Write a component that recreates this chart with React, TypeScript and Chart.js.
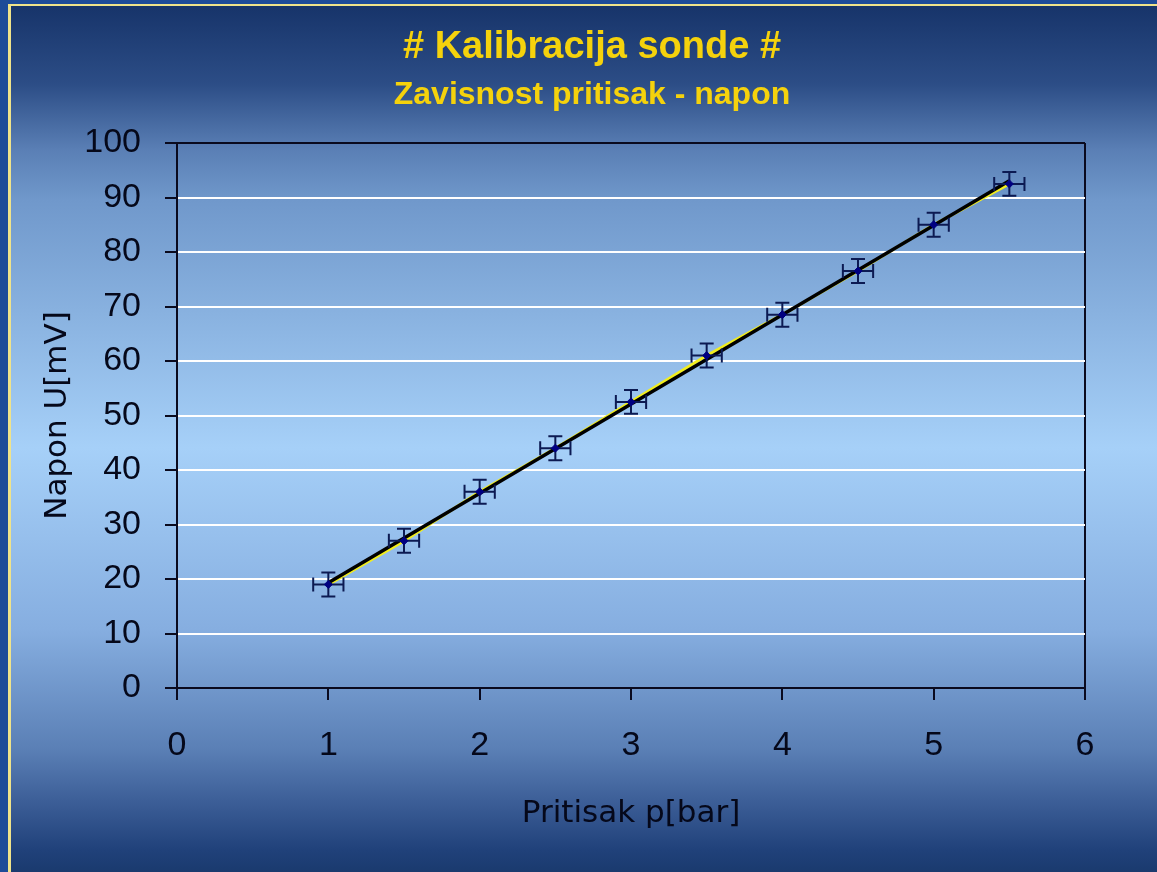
import React, { useEffect, useRef } from "react";
import { Chart, registerables } from "chart.js";

Chart.register(...registerables);

// ---- data ----
const pressure = [1, 1.5, 2, 2.5, 3, 3.5, 4, 4.5, 5, 5.5]; // p [bar]
const voltage = [19, 27, 36, 44, 52.5, 61, 68.5, 76.5, 85, 92.5]; // U [mV]
const pressureError = [0.1, 0.1, 0.1, 0.1, 0.1, 0.1, 0.1, 0.1, 0.1, 0.1];
const voltageError = [2.2, 2.2, 2.2, 2.2, 2.2, 2.2, 2.2, 2.2, 2.2, 2.2];

const titleText = "# Kalibracija sonde #";
const subtitleText = "Zavisnost pritisak - napon";
const xTitle = "Pritisak p[bar]";
const yTitle = "Napon U[mV]";

// linear trendline (least squares) from the data
function trend() {
  const n = pressure.length;
  const mx = pressure.reduce((a, b) => a + b, 0) / n;
  const my = voltage.reduce((a, b) => a + b, 0) / n;
  let sxy = 0;
  let sxx = 0;
  for (let i = 0; i < n; i++) {
    sxy += (pressure[i] - mx) * (voltage[i] - my);
    sxx += (pressure[i] - mx) ** 2;
  }
  const b = sxy / sxx;
  const a = my - b * mx;
  const x0 = pressure[0];
  const x1 = pressure[n - 1];
  return [
    { x: x0, y: a + b * x0 },
    { x: x1, y: a + b * x1 },
  ];
}

const errorBars = {
  id: "errorBars",
  afterDatasetDraw(chart: any, args: any) {
    if (args.index !== 1) return;
    const { ctx } = chart;
    const xs = chart.scales.x;
    const ys = chart.scales.y;
    const cap = 7;
    ctx.save();
    ctx.strokeStyle = "#0c1a52";
    ctx.lineWidth = 2;
    pressure.forEach((p, i) => {
      const v = voltage[i];
      const px = xs.getPixelForValue(p);
      const py = ys.getPixelForValue(v);
      const xl = xs.getPixelForValue(p - pressureError[i]);
      const xr = xs.getPixelForValue(p + pressureError[i]);
      const yt = ys.getPixelForValue(v + voltageError[i]);
      const yb = ys.getPixelForValue(v - voltageError[i]);
      ctx.beginPath();
      ctx.moveTo(xl, py);
      ctx.lineTo(xr, py);
      ctx.moveTo(xl, py - cap);
      ctx.lineTo(xl, py + cap);
      ctx.moveTo(xr, py - cap);
      ctx.lineTo(xr, py + cap);
      ctx.moveTo(px, yt);
      ctx.lineTo(px, yb);
      ctx.moveTo(px - cap, yt);
      ctx.lineTo(px + cap, yt);
      ctx.moveTo(px - cap, yb);
      ctx.lineTo(px + cap, yb);
      ctx.stroke();
    });
    ctx.restore();
  },
};

export default function App() {
  const ref = useRef<HTMLCanvasElement | null>(null);

  useEffect(() => {
    if (!ref.current) return;
    const points = pressure.map((x, i) => ({ x, y: voltage[i] }));
    const chart = new Chart(ref.current, {
      type: "scatter",
      data: {
        datasets: [
          {
            data: points,
            showLine: false,
            pointStyle: "rectRot",
            pointRadius: 4,
            pointBackgroundColor: "#000080",
            pointBorderColor: "#000080",
            order: 0,
          },
          {
            data: trend(),
            showLine: true,
            borderColor: "#000000",
            borderWidth: 3.5,
            pointRadius: 0,
            order: 1,
          },
          {
            data: points,
            showLine: true,
            borderColor: "#f2ee1e",
            borderWidth: 3,
            pointRadius: 0,
            order: 2,
          },
        ],
      },
      options: {
        responsive: false,
        animation: false,
        layout: { padding: { left: 16, right: 0, top: 0, bottom: 0 } },
        plugins: {
          legend: { display: false },
          tooltip: { enabled: false },
          title: {
            display: true,
            text: titleText,
            color: "#f5d20c",
            font: { family: "'Liberation Sans', Arial, sans-serif", size: 38, weight: "bold", lineHeight: 1.2 },
            padding: { top: 19, bottom: 5 },
          },
          subtitle: {
            display: true,
            text: subtitleText,
            color: "#f5d20c",
            font: { family: "'Liberation Sans', Arial, sans-serif", size: 32, weight: "bold", lineHeight: 1.2 },
            padding: { top: 0, bottom: 29 },
          },
        },
        scales: {
          x: {
            type: "linear",
            min: 0,
            max: 6,
            ticks: {
              stepSize: 1,
              padding: 25,
              color: "#05081a",
              font: { family: "'Liberation Sans', Arial, sans-serif", size: 34 },
            },
            grid: {
              color: (c: any) => (c.tick && c.tick.value === 6 ? "#0a0a1e" : "rgba(0,0,0,0)"),
              lineWidth: 2,
              tickColor: "#0a0a1e",
              tickWidth: 2,
              tickLength: 12,
            },
            border: { display: true, color: "#0a0a1e", width: 2 },
            title: {
              display: true,
              text: xTitle,
              color: "#05081a",
              font: { family: "'DejaVu Sans', Verdana, sans-serif", size: 31, lineHeight: 1.2 },
              padding: { top: 0, bottom: 39 },
            },
            afterFit: (s: any) => {
              s.height = 184;
              s.paddingLeft = 0;
              s.paddingRight = 0;
            },
          },
          y: {
            type: "linear",
            min: 0,
            max: 100,
            ticks: {
              stepSize: 10,
              padding: 24,
              color: "#05081a",
              font: { family: "'Liberation Sans', Arial, sans-serif", size: 34 },
            },
            grid: {
              color: (c: any) =>
                c.tick && (c.tick.value === 100 || c.tick.value === 0) ? "#0a0a1e" : "#ffffff",
              lineWidth: 2,
              tickColor: "#0a0a1e",
              tickWidth: 2,
              tickLength: 12,
            },
            border: { display: true, color: "#0a0a1e", width: 2 },
            title: {
              display: true,
              text: yTitle,
              color: "#05081a",
              font: { family: "'DejaVu Sans', Verdana, sans-serif", size: 31, lineHeight: 1.2 },
              padding: { top: 12, bottom: 0 },
            },
            afterFit: (s: any) => {
              s.width = 150;
              s.paddingTop = 0;
              s.paddingBottom = 0;
            },
          },
          yRightSpace: {
            type: "linear",
            position: "right",
            display: true,
            min: 0,
            max: 100,
            ticks: { display: false },
            grid: { display: false, drawTicks: false },
            border: { display: false },
            afterFit: (s: any) => {
              s.width = 72;
              s.paddingTop = 0;
              s.paddingBottom = 0;
            },
          },
        },
      },
      plugins: [errorBars],
    } as any);
    return () => chart.destroy();
  }, []);

  return (
    <div
      style={{
        position: "fixed",
        left: 0,
        top: 0,
        width: 1157,
        height: 872,
        background: "#1d4b98",
        overflow: "hidden",
      }}
    >
      <div
        style={{
          position: "absolute",
          left: 8,
          top: 4,
          right: 0,
          bottom: 0,
          borderLeft: "3px solid #efe38a",
          borderTop: "2px solid #efe38a",
        }}
      >
        <canvas
          ref={ref}
          width={1146}
          height={866}
          style={{
            display: "block",
            width: 1146,
            height: 866,
            background:
              "linear-gradient(to bottom, #17346a 0%, #2c4d86 9%, #5a7fb5 16.6%, #7098cb 22.4%, #a6d0f8 51%, #86aee0 72%, #5a7fb5 85.9%, #3d5f98 91.7%, #20417a 97.5%, #1a3a6e 100%)",
          }}
        />
      </div>
    </div>
  );
}
